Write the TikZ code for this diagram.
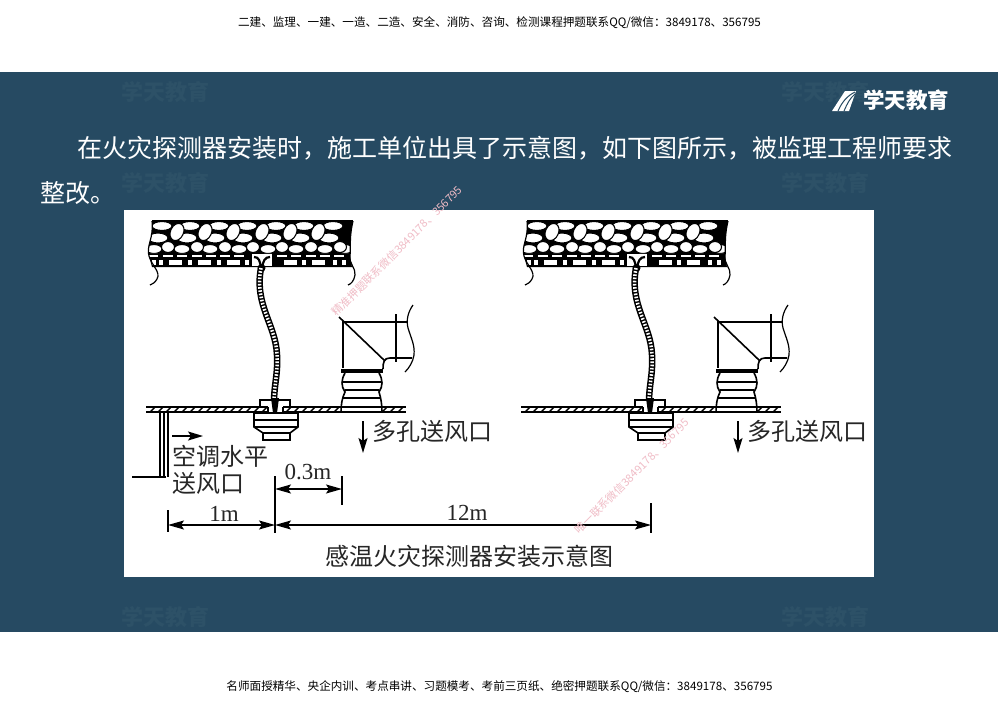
\documentclass[tikz,border=0pt]{standalone}
\usepackage{fontspec}
\usetikzlibrary{arrows.meta}
\setmainfont{Noto Sans CJK SC}
\newfontfamily\latinfont{Liberation Serif}
\definecolor{slide}{HTML}{264A62}
\definecolor{ghost}{HTML}{2D5167}
\definecolor{stamp}{HTML}{F0BCC6}
\tikzset{
	bigtext/.style={text=white,font=\fontsize{25}{25}\selectfont,inner sep=0pt,anchor=west},
	plantext/.style={text=black!85,font=\fontsize{24}{24}\selectfont,inner sep=0pt,anchor=west},
	dimtext/.style={text=black!85,font=\latinfont\fontsize{23}{23}\selectfont,inner sep=0pt},
	pagetext/.style={text=black,font=\fontsize{11.6}{12}\selectfont,inner sep=0pt},
	ghosttext/.style={text=ghost,font=\bfseries\fontsize{22}{22}\selectfont,inner sep=0pt},
	stamptext/.style={text=stamp,font=\fontsize{11}{11}\selectfont,inner sep=0pt,rotate=45},
	dimline/.style={<->,>={Stealth[length=16pt,width=9pt,inset=3pt]},line width=1.4pt},
	flowline/.style={->,>={Stealth[length=15pt,width=9pt,inset=3pt]},line width=1.4pt},
	planline/.style={line width=1.6pt},
	stone/.style={draw=black,fill=white,line width=1.1pt}
}
\begin{document}
\begin{tikzpicture}[x=1pt,y=-1pt]
	\useasboundingbox (0,0) rectangle (1000,707);
	\fill[white] (0,0) rectangle (1000,707);
	\fill[slide] (0,72) rectangle (998,632);
	% faint marks
	\foreach \px/\py [count=\i] in {165/92,825/92,165/183,825/183,165/617,825/617}
		\node[ghosttext] (ghost\i) at (\px,\py) {学天教育};
	% page lines
	\node[pagetext] (headline) at (499.5,23) {二建、监理、一建、一造、二造、安全、消防、咨询、检测课程押题联系QQ/微信：3849178、356795};
	\node[pagetext] (footline) at (499.5,687) {名师面授精华、央企内训、考点串讲、习题模考、考前三页纸、绝密押题联系QQ/微信：3849178、356795};
	% logo
	\fill[white] (832,111) -- (845,91) -- (856,91) -- (849,111) -- cycle;
	\draw[slide,line width=1pt] (838,111) .. controls (842,102) and (847,96) .. (855,92) (844,111) .. controls (847,104) and (850,98) .. (855,94);
	\node[text=white,font=\bfseries\fontsize{21.5}{22}\selectfont,inner sep=0pt,anchor=west] (logotext) at (863,100) {学天教育};
	% slide text
	\node[bigtext] (lineone) at (77,148) {在火灾探测器安装时，施工单位出具了示意图，如下图所示，被监理工程师要求};
	\node[bigtext] (linetwo) at (40,193) {整改。};
	% picture panel
	\fill[white] (124,210) rectangle (874,577);
	\foreach \dx in {0,375}{
	\begin{scope}[shift={(\dx,0)}]
		% ceiling
		\fill[black] (152,221) -- (353,221) .. controls (349,238) and (351,246) .. (350,256) -- (352,267) -- (152,267) -- (149,256) .. controls (146,246) and (154,238) .. (152,221) -- cycle;
		\begin{scope}
		\clip (152,222) -- (353,222) .. controls (349,238) and (351,246) .. (350,253) -- (149,253) .. controls (146,246) and (154,238) .. (152,222) -- cycle;
		\foreach \px in {162,190,219,247,276,304,333} \draw[stone] (\px,226) circle [x radius=10,y radius=4.5];
		\foreach \px in {158,187,215,243,272,300,329} \draw[stone] (\px,238) circle [x radius=10,y radius=5];
		\foreach \px in {154,182,210,239,268,296,325,345} \draw[stone] (\px,249) circle [x radius=8,y radius=4.5];
		\foreach \px in {168,197,225,253,282,311,340} \draw[stone] (\px,247) circle [x radius=6.5,y radius=5.5];
		\foreach \px in {177,205,233,262,290,318} \draw[stone] (\px,232) circle [x radius=6.5,y radius=9,rotate=-25];
		\end{scope}
		\foreach \px in {153,168,182,197,211,225,239,282,296,311,325,339} \fill[white] (\px-5,254.5) rectangle (\px+5,256.5);
		\foreach \px in {175,204,233,290,318} \fill[white] (\px-6.5,260) rectangle (\px+6.5,265);
		\foreach \px in {154,161,190,219,247,304,335,344} \fill[white] (\px-2,260) rectangle (\px+2,265);
		\draw[planline] (152,221) -- (353,221);
		\draw[line width=1.2pt] (152,221) .. controls (154,238) and (146,246) .. (149,256) .. controls (152,266) and (161,272) .. (157,279) .. controls (155,283) and (152,284) .. (150,285);
		\draw[line width=1.2pt] (353,221) .. controls (349,238) and (351,246) .. (350,256) .. controls (349,264) and (356,268) .. (355,275) .. controls (354,281) and (351,284) .. (348,285);
		% fitting on the ceiling
		\fill[white] (251,254) rectangle (273,266);
		\draw[line width=1.2pt] (251,254) -- (251,266) (273,254) -- (273,266);
		\draw[line width=2.2pt] (254,257) .. controls (259,257) and (260,261) .. (261,268);
		\draw[line width=2.2pt] (270,257) .. controls (265,257) and (263,261) .. (262,268);
		\fill[black] (261.5,268) circle [radius=4];
		% hose
		\coordinate (hosetop) at (261,268);
		\coordinate (hoseend) at (274,402);
		\draw[line width=6.5pt] (hosetop) .. controls (254,305) and (276,325) .. (277,355) .. controls (278,375) and (274,385) .. (hoseend);
		\draw[white,line width=3.5pt,dash pattern=on 1.6pt off 1.6pt] (hosetop) .. controls (254,305) and (276,325) .. (277,355) .. controls (278,375) and (274,385) .. (hoseend);
		% false ceiling
		\draw[planline] (146,407) -- (406,407) (146,412) -- (406,412);
		\foreach \px in {150,158,...,402} \draw[line width=1.4pt] (\px,412) -- (\px+5,407);
		% detector
		\fill[white] (260,400) rectangle (290,406);
		\fill[white] (268,400) rectangle (283,413);
		\draw[planline] (260,407) -- (260,400) -- (290,400) -- (290,407) (268,407) -- (268,413) (283,407) -- (283,413);
		\fill[black] (271,398) -- (279,398) -- (277,413) -- (273,413) -- cycle;
		\fill[white] (254,413) -- (298,413) -- (298,427) -- (290,433) -- (290,440) -- (263,440) -- (263,433) -- (254,427) -- cycle;
		\draw[planline] (254,413) -- (298,413) -- (298,427) -- (290,433) -- (290,440) -- (263,440) -- (263,433) -- (254,427) -- cycle;
		\draw[planline] (254,420) -- (298,420) (254,427) -- (298,427) (263,433) -- (290,433);
		% duct
		\draw[planline] (343,368) -- (343,322) -- (408,322);
		\draw[planline] (339,317) -- (385,361);
		\draw[planline] (383,369) .. controls (383,362) and (384,358) .. (390,358) -- (412,358);
		\draw[planline] (396,314) -- (396,362);
		\draw[line width=1.2pt] (413,305) .. controls (408,312) and (406,320) .. (408,328) .. controls (411,338) and (415,345) .. (414,355) .. controls (413,362) and (409,368) .. (405,372);
		\fill[black] (341,369) rectangle (383,373);
		\fill[white] (345,373) .. controls (341,380) and (341,386) .. (345,392) .. controls (342,398) and (341,405) .. (341,412) -- (382,412) .. controls (382,405) and (381,398) .. (379,392) .. controls (383,386) and (383,380) .. (379,373) -- cycle;
		\draw[planline] (345,373) .. controls (341,380) and (341,386) .. (345,392) .. controls (342,398) and (341,405) .. (341,412) -- (382,412) .. controls (382,405) and (381,398) .. (379,392) .. controls (383,386) and (383,380) .. (379,373);
		\draw[planline] (343,382) -- (381,382) (345,390) -- (379,390) (343,398) -- (381,398) (342,407) -- (382,407);
		\draw[line width=2.2pt] (341,412) -- (383,412);
		% supply outlet
		\coordinate (flowtop) at (363,421);
		\coordinate (flowend) at (363,453);
		\draw[flowline] (flowtop) -- (flowend);
		\node[plantext] (porelabel\dx) at (372,431) {多孔送风口};
	\end{scope}
	}
	% wall outlet
	\draw[planline] (160,412) -- (160,477) (164,412) -- (164,477) (168,412) -- (168,477);
	\draw[planline] (132,477) -- (166,477);
	\coordinate (sidetail) at (172,436);
	\coordinate (sidehead) at (203,436);
	\draw[flowline] (sidetail) -- (sidehead);
	\node[plantext] (sideone) at (172,456) {空调水平};
	\node[plantext] (sidetwo) at (172,483) {送风口};
	% dimensions
	\coordinate (wallmark) at (168,525);
	\coordinate (probemark) at (275,525);
	\coordinate (nextmark) at (651,525);
	\coordinate (probeupper) at (275,489);
	\coordinate (ductmark) at (342,489);
	\draw[line width=1.3pt] (168,510) -- (168,532) (275,476) -- (275,533) (342,476) -- (342,505) (651,503) -- (651,533);
	\draw[dimline] (wallmark) -- (probemark);
	\draw[dimline] (probemark) -- (nextmark);
	\draw[dimline] (probeupper) -- (ductmark);
	\node[dimtext] (gapsmall) at (308,472) {0.3m};
	\node[dimtext] (gapwall) at (224,514) {1m};
	\node[dimtext] (gaplong) at (467,513) {12m};
	\node[plantext] (caption) at (325,556) {感温火灾探测器安装示意图};
	% stamps
	\node[stamptext] (stampone) at (397,251) {精准押题联系微信3849178、356795};
	\node[stamptext] (stamptwo) at (632,476) {唯一联系微信3849178、356795};
\end{tikzpicture}
\end{document}
